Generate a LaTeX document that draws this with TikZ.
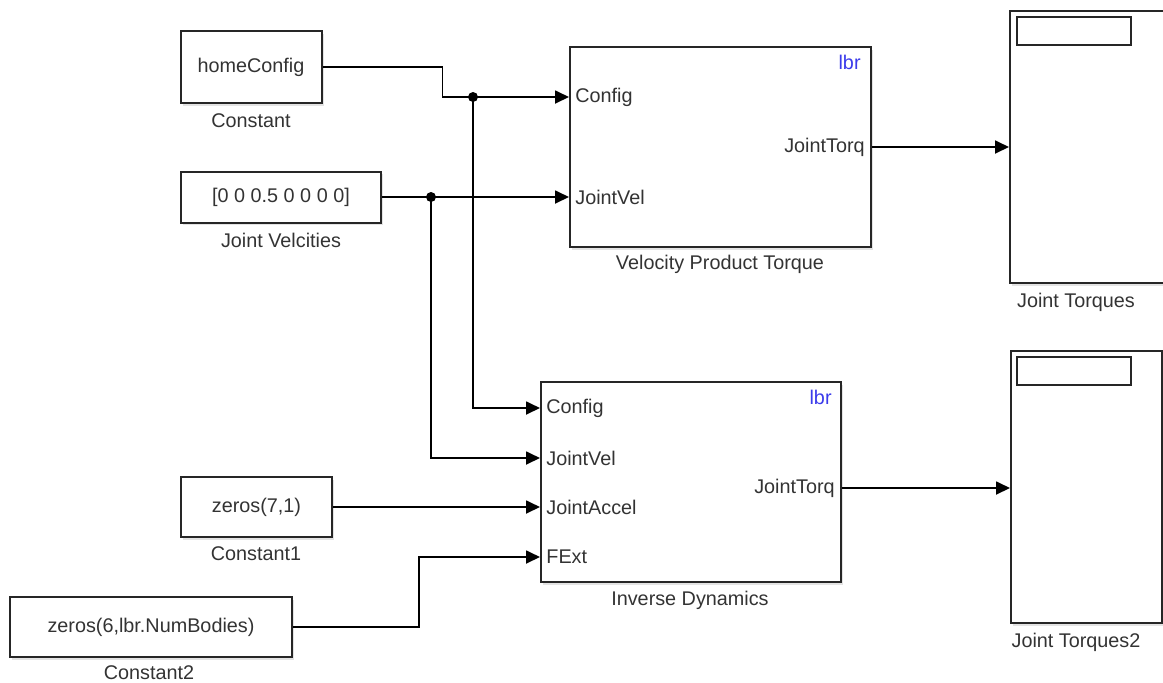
\documentclass[tikz,border=0pt]{standalone}
\usepackage{fontspec}
\setmainfont{Liberation Sans}
\usetikzlibrary{arrows.meta, shadows}

\definecolor{textgray}{RGB}{51,51,51}
\definecolor{maskblue}{RGB}{60,60,235}

\begin{document}
\begin{tikzpicture}[
                x=0.5pt, y=-0.5pt,
                every node/.style={
                    font=\fontsize{9.9}{11}\selectfont,
                    text=textgray,
                },
                block/.style={
                    draw=black!85,
                    line width=1pt,
                    fill=white,
                    inner sep=0pt,
                    drop shadow={shadow xshift=1pt, shadow yshift=-1.3pt, opacity=0.22},
                },
                display/.style={
                    draw=black!85,
                    line width=1pt,
                    inner sep=0pt,
                },
                port/.style={inner sep=0pt},
                wire/.style={line width=0.9pt, draw=black},
                junction/.style={circle, fill=black, inner sep=0pt, minimum size=5pt},
                >={Triangle[length=7pt, width=6.5pt]},
            ]
            \useasboundingbox (0,0) rectangle (1163,682);
            \clip (0,0) rectangle (1163,682);

            % source blocks
            \node [block, minimum width=70.5pt, minimum height=36pt] (cst) at (251,67) {homeConfig};
            \node (cstlabel) at (251,121) {Constant};
            \node [block, minimum width=100pt, minimum height=25.5pt] (jv) at (281,197) {[0 0 0.5 0 0 0 0]};
            \node (jvlabel) at (281,240) {Joint Velcities};
            \node [block, minimum width=75.5pt, minimum height=30pt] (cst1) at (256.5,507) {zeros(7,1)};
            \node (cst1label) at (256,554) {Constant1};
            \node [block, minimum width=141pt, minimum height=30pt] (cst2) at (151,627) {zeros(6,lbr.NumBodies)};
            \node (cst2label) at (149,673) {Constant2};

            % velocity product torque
            \node [block, minimum width=150.5pt, minimum height=100pt] (vpt) at (720.5,147) {};
            \node (vptlabel) at (720,264) {Velocity Product Torque};
            \node [port, text=maskblue, anchor=east] (vptmask) at (861,62) {lbr};
            \coordinate (vptCfg) at (vpt.west |- 0,97);
            \coordinate (vptVel) at (vpt.west |- 0,197);
            \coordinate (vptOut) at (vpt.east |- 0,147);
            \node [port, anchor=west] (vptCfgtxt) at ([xshift=3pt]vptCfg) {Config};
            \node [port, anchor=west] (vptVeltxt) at ([xshift=3pt]vptVel) {JointVel};
            \node [port, anchor=east] (vptOuttxt) at ([xshift=-3.5pt]vptOut) {JointTorq};

            % inverse dynamics
            \node [block, minimum width=150pt, minimum height=100pt] (id) at (691,482) {};
            \node (idlabel) at (690,600) {Inverse Dynamics};
            \node [port, text=maskblue, anchor=east] (idmask) at (832,397) {lbr};
            \coordinate (idCfg) at (id.west |- 0,408);
            \coordinate (idVel) at (id.west |- 0,458);
            \coordinate (idAcc) at (id.west |- 0,507);
            \coordinate (idExt) at (id.west |- 0,557);
            \coordinate (idOut) at (id.east |- 0,488);
            \node [port, anchor=west] (idCfgtxt) at ([xshift=3pt]idCfg) {Config};
            \node [port, anchor=west] (idVeltxt) at ([xshift=3pt]idVel) {JointVel};
            \node [port, anchor=west] (idAcctxt) at ([xshift=3pt]idAcc) {JointAccel};
            \node [port, anchor=west] (idExttxt) at ([xshift=3pt]idExt) {FExt};
            \node [port, anchor=east] (idOuttxt) at ([xshift=-3.5pt]idOut) {JointTorq};

            % scopes
            \node [block, minimum width=77pt, minimum height=136pt] (scope1) at (1087,147) {};
            \node [display, minimum width=57pt, minimum height=14pt] (scope1disp) at (1074,31) {};
            \node (scope1label) at (1076,302) {Joint Torques};
            \coordinate (scope1In) at (scope1.west |- vptOut);
            \node [block, minimum width=75.5pt, minimum height=136pt] (scope2) at (1086.5,487) {};
            \node [display, minimum width=57pt, minimum height=14pt] (scope2disp) at (1074,371) {};
            \node (scope2label) at (1076,642) {Joint Torques2};
            \coordinate (scope2In) at (scope2.west |- idOut);

            % signal lines
            \coordinate (jCfg) at (473,97);
            \coordinate (jVel) at (431,197);
            \draw [wire, ->] (cst.east) -- ++(120,0) |- (vptCfg);
            \draw [wire, ->] (jCfg) |- (idCfg);
            \draw [wire, ->] (jv.east) -- (vptVel);
            \draw [wire, ->] (jVel) |- (idVel);
            \draw [wire, ->] (cst1.east) -- (idAcc);
            \draw [wire, ->] (cst2.east) -- ++(126,0) |- (idExt);
            \draw [wire, ->] (vptOut) -- (scope1In);
            \draw [wire, ->] (idOut) -- (scope2In);
            \node [junction] (dotCfg) at (jCfg) {};
            \node [junction] (dotVel) at (jVel) {};
        \end{tikzpicture}
\end{document}
